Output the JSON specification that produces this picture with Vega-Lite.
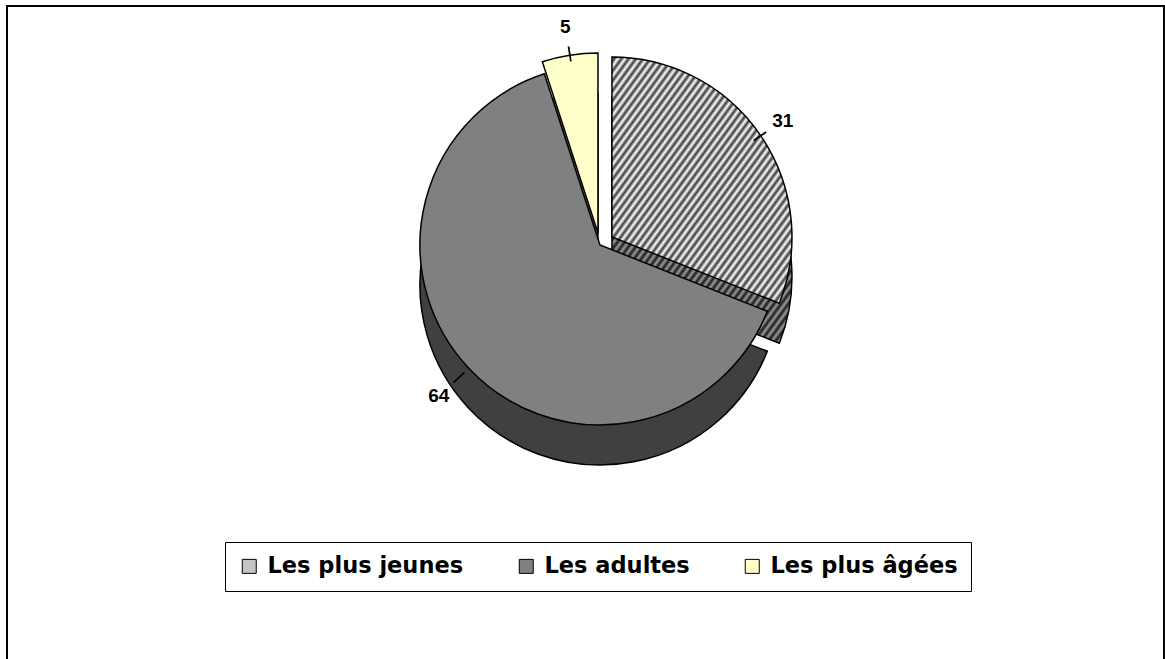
{
  "$schema": "https://vega.github.io/schema/vega-lite/v6.json",
  "width": 1157,
  "height": 653,
  "autosize": {"type": "none"},
  "padding": {"left": 7, "top": 6, "right": 1, "bottom": 0},
  "background": "white",
  "config": {
    "view": {"stroke": null},
    "legend": {
      "labelFont": "DejaVu Sans",
      "labelFontWeight": "bold",
      "labelFontSize": 22.5,
      "labelColor": "#000000",
      "labelLimit": 400,
      "labelOffset": 7,
      "symbolType": "square",
      "symbolSize": 196,
      "symbolStrokeColor": "#000000",
      "symbolStrokeWidth": 1,
      "columnPadding": 51,
      "padding": 13,
      "strokeColor": "#000000",
      "fillColor": "#ffffff"
    }
  },
  "data": {
    "values": [
      {"categorie": "Les plus jeunes", "valeur": 31, "ordre": 1},
      {"categorie": "Les adultes", "valeur": 64, "ordre": 2},
      {"categorie": "Les plus âgées", "valeur": 5, "ordre": 3}
    ]
  },
  "transform": [
    {"window": [{"op": "sum", "field": "valeur", "as": "cum"}], "sort": [{"field": "ordre"}], "frame": [null, 0]},
    {"calculate": "datum.cum - datum.valeur", "as": "debut"},
    {"calculate": "datum.cum - datum.valeur / 2", "as": "milieu"},
    {"calculate": "datum.milieu - 0.07", "as": "m1"},
    {"calculate": "datum.milieu + 0.07", "as": "m2"}
  ],
  "layer": [
    {
      "data": {"values": [{"cadre": 1}]},
      "mark": {"type": "rect", "x": 0, "y": 0, "x2": {"expr": "width"}, "y2": {"expr": "height + 30"}, "fill": null, "fillOpacity": 0, "stroke": "#000000", "strokeWidth": 2},
      "encoding": {}
    },
    {
      "transform": [{"filter": "datum.categorie === 'Les adultes'"}],
      "mark": {"type": "arc", "radius": 180, "x": {"expr": "width*0.5125"}, "y": {"expr": "height*0.366 + 40"}, "stroke": "#000000", "strokeWidth": 1.5, "fill": "#404040"},
      "encoding": {
        "theta": {"field": "debut", "type": "quantitative", "stack": null, "scale": {"domain": [0, 100]}},
        "theta2": {"field": "cum"}
      }
    },
    {
      "transform": [{"filter": "datum.categorie === 'Les plus jeunes'"}],
      "mark": {"type": "arc", "radius": 180, "x": {"expr": "width*0.5125 + 12"}, "y": {"expr": "height*0.366 + 32"}, "stroke": "#000000", "strokeWidth": 1.5,
        "fill": {"gradient": "linear", "x1": 0, "y1": 0, "x2": 1, "y2": 1, "stops": [
          {"offset": 0, "color": "#9a9a9a"}, {"offset": 0.01, "color": "#1a1a1a"}, {"offset": 0.02, "color": "#9a9a9a"}, {"offset": 0.03, "color": "#1a1a1a"}, {"offset": 0.04, "color": "#9a9a9a"}, {"offset": 0.05, "color": "#1a1a1a"}, {"offset": 0.06, "color": "#9a9a9a"}, {"offset": 0.07, "color": "#1a1a1a"}, {"offset": 0.08, "color": "#9a9a9a"}, {"offset": 0.09, "color": "#1a1a1a"},
          {"offset": 0.1, "color": "#9a9a9a"}, {"offset": 0.11, "color": "#1a1a1a"}, {"offset": 0.12, "color": "#9a9a9a"}, {"offset": 0.13, "color": "#1a1a1a"}, {"offset": 0.14, "color": "#9a9a9a"}, {"offset": 0.15, "color": "#1a1a1a"}, {"offset": 0.16, "color": "#9a9a9a"}, {"offset": 0.17, "color": "#1a1a1a"}, {"offset": 0.18, "color": "#9a9a9a"}, {"offset": 0.19, "color": "#1a1a1a"},
          {"offset": 0.2, "color": "#9a9a9a"}, {"offset": 0.21, "color": "#1a1a1a"}, {"offset": 0.22, "color": "#9a9a9a"}, {"offset": 0.23, "color": "#1a1a1a"}, {"offset": 0.24, "color": "#9a9a9a"}, {"offset": 0.25, "color": "#1a1a1a"}, {"offset": 0.26, "color": "#9a9a9a"}, {"offset": 0.27, "color": "#1a1a1a"}, {"offset": 0.28, "color": "#9a9a9a"}, {"offset": 0.29, "color": "#1a1a1a"},
          {"offset": 0.3, "color": "#9a9a9a"}, {"offset": 0.31, "color": "#1a1a1a"}, {"offset": 0.32, "color": "#9a9a9a"}, {"offset": 0.33, "color": "#1a1a1a"}, {"offset": 0.34, "color": "#9a9a9a"}, {"offset": 0.35, "color": "#1a1a1a"}, {"offset": 0.36, "color": "#9a9a9a"}, {"offset": 0.37, "color": "#1a1a1a"}, {"offset": 0.38, "color": "#9a9a9a"}, {"offset": 0.39, "color": "#1a1a1a"},
          {"offset": 0.4, "color": "#9a9a9a"}, {"offset": 0.41, "color": "#1a1a1a"}, {"offset": 0.42, "color": "#9a9a9a"}, {"offset": 0.43, "color": "#1a1a1a"}, {"offset": 0.44, "color": "#9a9a9a"}, {"offset": 0.45, "color": "#1a1a1a"}, {"offset": 0.46, "color": "#9a9a9a"}, {"offset": 0.47, "color": "#1a1a1a"}, {"offset": 0.48, "color": "#9a9a9a"}, {"offset": 0.49, "color": "#1a1a1a"},
          {"offset": 0.5, "color": "#9a9a9a"}, {"offset": 0.51, "color": "#1a1a1a"}, {"offset": 0.52, "color": "#9a9a9a"}, {"offset": 0.53, "color": "#1a1a1a"}, {"offset": 0.54, "color": "#9a9a9a"}, {"offset": 0.55, "color": "#1a1a1a"}, {"offset": 0.56, "color": "#9a9a9a"}, {"offset": 0.57, "color": "#1a1a1a"}, {"offset": 0.58, "color": "#9a9a9a"}, {"offset": 0.59, "color": "#1a1a1a"},
          {"offset": 0.6, "color": "#9a9a9a"}, {"offset": 0.61, "color": "#1a1a1a"}, {"offset": 0.62, "color": "#9a9a9a"}, {"offset": 0.63, "color": "#1a1a1a"}, {"offset": 0.64, "color": "#9a9a9a"}, {"offset": 0.65, "color": "#1a1a1a"}, {"offset": 0.66, "color": "#9a9a9a"}, {"offset": 0.67, "color": "#1a1a1a"}, {"offset": 0.68, "color": "#9a9a9a"}, {"offset": 0.69, "color": "#1a1a1a"},
          {"offset": 0.7, "color": "#9a9a9a"}, {"offset": 0.71, "color": "#1a1a1a"}, {"offset": 0.72, "color": "#9a9a9a"}, {"offset": 0.73, "color": "#1a1a1a"}, {"offset": 0.74, "color": "#9a9a9a"}, {"offset": 0.75, "color": "#1a1a1a"}, {"offset": 0.76, "color": "#9a9a9a"}, {"offset": 0.77, "color": "#1a1a1a"}, {"offset": 0.78, "color": "#9a9a9a"}, {"offset": 0.79, "color": "#1a1a1a"},
          {"offset": 0.8, "color": "#9a9a9a"}, {"offset": 0.81, "color": "#1a1a1a"}, {"offset": 0.82, "color": "#9a9a9a"}, {"offset": 0.83, "color": "#1a1a1a"}, {"offset": 0.84, "color": "#9a9a9a"}, {"offset": 0.85, "color": "#1a1a1a"}, {"offset": 0.86, "color": "#9a9a9a"}, {"offset": 0.87, "color": "#1a1a1a"}, {"offset": 0.88, "color": "#9a9a9a"}, {"offset": 0.89, "color": "#1a1a1a"},
          {"offset": 0.9, "color": "#9a9a9a"}, {"offset": 0.91, "color": "#1a1a1a"}, {"offset": 0.92, "color": "#9a9a9a"}, {"offset": 0.93, "color": "#1a1a1a"}, {"offset": 0.94, "color": "#9a9a9a"}, {"offset": 0.95, "color": "#1a1a1a"}, {"offset": 0.96, "color": "#9a9a9a"}, {"offset": 0.97, "color": "#1a1a1a"}, {"offset": 0.98, "color": "#9a9a9a"}, {"offset": 0.99, "color": "#1a1a1a"},
          {"offset": 1, "color": "#9a9a9a"}
        ]}},
      "encoding": {
        "theta": {"field": "debut", "type": "quantitative", "stack": null, "scale": {"domain": [0, 100]}},
        "theta2": {"field": "cum"}
      }
    },
    {
      "transform": [{"filter": "datum.categorie === 'Les plus âgées'"}],
      "mark": {"type": "arc", "radius": 180, "x": {"expr": "width*0.5125 - 2"}, "y": {"expr": "height*0.366 + 28"}, "stroke": "#000000", "strokeWidth": 1.5, "fill": "#808060"},
      "encoding": {
        "theta": {"field": "debut", "type": "quantitative", "stack": null, "scale": {"domain": [0, 100]}},
        "theta2": {"field": "cum"}
      }
    },
    {
      "transform": [{"filter": "datum.categorie === 'Les adultes'"}],
      "mark": {"type": "arc", "radius": 180, "x": {"expr": "width*0.5125"}, "y": {"expr": "height*0.366"}, "stroke": "#000000", "strokeWidth": 1.5},
      "encoding": {
        "theta": {"field": "debut", "type": "quantitative", "stack": null, "scale": {"domain": [0, 100]}},
        "theta2": {"field": "cum"},
        "color": {"field": "categorie", "type": "nominal",
          "scale": {"domain": ["Les plus jeunes", "Les adultes", "Les plus âgées"], "range": ["#c4c4c4", "#808080", "#ffffcc"]},
          "legend": {"orient": "none", "legendX": 218, "legendY": 536, "direction": "horizontal", "title": null}}
      }
    },
    {
      "transform": [{"filter": "datum.categorie === 'Les plus jeunes'"}],
      "mark": {"type": "arc", "radius": 180, "x": {"expr": "width*0.5125 + 12"}, "y": {"expr": "height*0.366 - 8"}, "stroke": "#000000", "strokeWidth": 1.5,
        "fill": {"gradient": "linear", "x1": 0, "y1": 0, "x2": 1, "y2": 1, "stops": [
          {"offset": 0, "color": "#ffffff"}, {"offset": 0.01, "color": "#3a3a3a"}, {"offset": 0.02, "color": "#ffffff"}, {"offset": 0.03, "color": "#3a3a3a"}, {"offset": 0.04, "color": "#ffffff"}, {"offset": 0.05, "color": "#3a3a3a"}, {"offset": 0.06, "color": "#ffffff"}, {"offset": 0.07, "color": "#3a3a3a"}, {"offset": 0.08, "color": "#ffffff"}, {"offset": 0.09, "color": "#3a3a3a"},
          {"offset": 0.1, "color": "#ffffff"}, {"offset": 0.11, "color": "#3a3a3a"}, {"offset": 0.12, "color": "#ffffff"}, {"offset": 0.13, "color": "#3a3a3a"}, {"offset": 0.14, "color": "#ffffff"}, {"offset": 0.15, "color": "#3a3a3a"}, {"offset": 0.16, "color": "#ffffff"}, {"offset": 0.17, "color": "#3a3a3a"}, {"offset": 0.18, "color": "#ffffff"}, {"offset": 0.19, "color": "#3a3a3a"},
          {"offset": 0.2, "color": "#ffffff"}, {"offset": 0.21, "color": "#3a3a3a"}, {"offset": 0.22, "color": "#ffffff"}, {"offset": 0.23, "color": "#3a3a3a"}, {"offset": 0.24, "color": "#ffffff"}, {"offset": 0.25, "color": "#3a3a3a"}, {"offset": 0.26, "color": "#ffffff"}, {"offset": 0.27, "color": "#3a3a3a"}, {"offset": 0.28, "color": "#ffffff"}, {"offset": 0.29, "color": "#3a3a3a"},
          {"offset": 0.3, "color": "#ffffff"}, {"offset": 0.31, "color": "#3a3a3a"}, {"offset": 0.32, "color": "#ffffff"}, {"offset": 0.33, "color": "#3a3a3a"}, {"offset": 0.34, "color": "#ffffff"}, {"offset": 0.35, "color": "#3a3a3a"}, {"offset": 0.36, "color": "#ffffff"}, {"offset": 0.37, "color": "#3a3a3a"}, {"offset": 0.38, "color": "#ffffff"}, {"offset": 0.39, "color": "#3a3a3a"},
          {"offset": 0.4, "color": "#ffffff"}, {"offset": 0.41, "color": "#3a3a3a"}, {"offset": 0.42, "color": "#ffffff"}, {"offset": 0.43, "color": "#3a3a3a"}, {"offset": 0.44, "color": "#ffffff"}, {"offset": 0.45, "color": "#3a3a3a"}, {"offset": 0.46, "color": "#ffffff"}, {"offset": 0.47, "color": "#3a3a3a"}, {"offset": 0.48, "color": "#ffffff"}, {"offset": 0.49, "color": "#3a3a3a"},
          {"offset": 0.5, "color": "#ffffff"}, {"offset": 0.51, "color": "#3a3a3a"}, {"offset": 0.52, "color": "#ffffff"}, {"offset": 0.53, "color": "#3a3a3a"}, {"offset": 0.54, "color": "#ffffff"}, {"offset": 0.55, "color": "#3a3a3a"}, {"offset": 0.56, "color": "#ffffff"}, {"offset": 0.57, "color": "#3a3a3a"}, {"offset": 0.58, "color": "#ffffff"}, {"offset": 0.59, "color": "#3a3a3a"},
          {"offset": 0.6, "color": "#ffffff"}, {"offset": 0.61, "color": "#3a3a3a"}, {"offset": 0.62, "color": "#ffffff"}, {"offset": 0.63, "color": "#3a3a3a"}, {"offset": 0.64, "color": "#ffffff"}, {"offset": 0.65, "color": "#3a3a3a"}, {"offset": 0.66, "color": "#ffffff"}, {"offset": 0.67, "color": "#3a3a3a"}, {"offset": 0.68, "color": "#ffffff"}, {"offset": 0.69, "color": "#3a3a3a"},
          {"offset": 0.7, "color": "#ffffff"}, {"offset": 0.71, "color": "#3a3a3a"}, {"offset": 0.72, "color": "#ffffff"}, {"offset": 0.73, "color": "#3a3a3a"}, {"offset": 0.74, "color": "#ffffff"}, {"offset": 0.75, "color": "#3a3a3a"}, {"offset": 0.76, "color": "#ffffff"}, {"offset": 0.77, "color": "#3a3a3a"}, {"offset": 0.78, "color": "#ffffff"}, {"offset": 0.79, "color": "#3a3a3a"},
          {"offset": 0.8, "color": "#ffffff"}, {"offset": 0.81, "color": "#3a3a3a"}, {"offset": 0.82, "color": "#ffffff"}, {"offset": 0.83, "color": "#3a3a3a"}, {"offset": 0.84, "color": "#ffffff"}, {"offset": 0.85, "color": "#3a3a3a"}, {"offset": 0.86, "color": "#ffffff"}, {"offset": 0.87, "color": "#3a3a3a"}, {"offset": 0.88, "color": "#ffffff"}, {"offset": 0.89, "color": "#3a3a3a"},
          {"offset": 0.9, "color": "#ffffff"}, {"offset": 0.91, "color": "#3a3a3a"}, {"offset": 0.92, "color": "#ffffff"}, {"offset": 0.93, "color": "#3a3a3a"}, {"offset": 0.94, "color": "#ffffff"}, {"offset": 0.95, "color": "#3a3a3a"}, {"offset": 0.96, "color": "#ffffff"}, {"offset": 0.97, "color": "#3a3a3a"}, {"offset": 0.98, "color": "#ffffff"}, {"offset": 0.99, "color": "#3a3a3a"},
          {"offset": 1, "color": "#ffffff"}
        ]}},
      "encoding": {
        "theta": {"field": "debut", "type": "quantitative", "stack": null, "scale": {"domain": [0, 100]}},
        "theta2": {"field": "cum"}
      }
    },
    {
      "transform": [{"filter": "datum.categorie === 'Les plus âgées'"}],
      "mark": {"type": "arc", "radius": 180, "x": {"expr": "width*0.5125 - 2"}, "y": {"expr": "height*0.366 - 12"}, "stroke": "#000000", "strokeWidth": 1.5},
      "encoding": {
        "theta": {"field": "debut", "type": "quantitative", "stack": null, "scale": {"domain": [0, 100]}},
        "theta2": {"field": "cum"},
        "color": {"field": "categorie", "type": "nominal",
          "scale": {"domain": ["Les plus jeunes", "Les adultes", "Les plus âgées"], "range": ["#c4c4c4", "#808080", "#ffffcc"]},
          "legend": {"orient": "none", "legendX": 218, "legendY": 536, "direction": "horizontal", "title": null}}
      }
    },
    {
      "mark": {"type": "arc", "radius": 201, "radius2": 186, "x": {"expr": "width*0.5125"}, "y": {"expr": "height*0.366"}, "fill": "#000000"},
      "encoding": {
        "theta": {"field": "m1", "type": "quantitative", "stack": null, "scale": {"domain": [0, 100]}},
        "theta2": {"field": "m2"}
      }
    },
    {
      "mark": {"type": "text", "radius": 221, "x": {"expr": "width*0.5125"}, "y": {"expr": "height*0.366"}, "font": "Liberation Sans", "fontWeight": "bold", "fontSize": 19, "color": "#000000", "align": "center", "baseline": "middle"},
      "encoding": {
        "theta": {"field": "milieu", "type": "quantitative", "stack": null, "scale": {"domain": [0, 100]}},
        "text": {"field": "valeur", "type": "quantitative"}
      }
    }
  ]
}
